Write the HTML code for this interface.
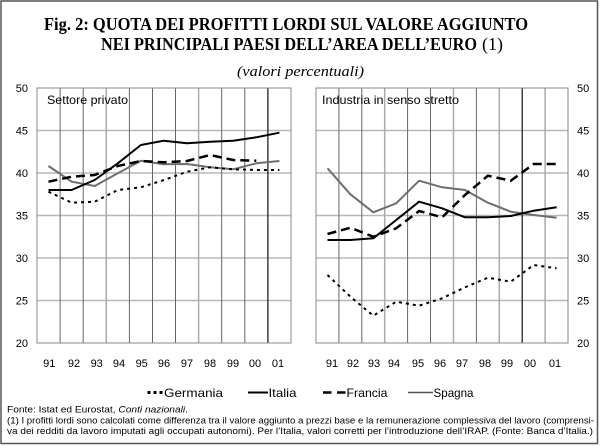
<!DOCTYPE html>
<html><head><meta charset="utf-8"><style>
html,body{margin:0;padding:0;background:#fff;}
svg{display:block;}
text{font-family:"Liberation Sans",Arial,sans-serif;}
.serif{font-family:"Liberation Serif","Times New Roman",serif;}
</style></head><body>
<svg width="600" height="446" viewBox="0 0 600 446" xmlns="http://www.w3.org/2000/svg">
<rect x="0" y="0" width="600" height="446" fill="#fff"/>
<rect x="1" y="1" width="596.5" height="442.5" fill="none" stroke="#555" stroke-width="1.5"/>

<!-- Title -->
<text class="serif" x="44" y="30" font-size="18" font-weight="bold" textLength="484" lengthAdjust="spacingAndGlyphs">Fig. 2: QUOTA DEI PROFITTI LORDI SUL VALORE AGGIUNTO</text>
<text class="serif" x="101" y="50" font-size="18" font-weight="bold" textLength="376" lengthAdjust="spacingAndGlyphs">NEI PRINCIPALI PAESI DELL’AREA DELL’EURO</text>
<text class="serif" x="482" y="50" font-size="18" textLength="21" lengthAdjust="spacingAndGlyphs">(1)</text>
<text class="serif" x="237" y="76" font-size="15" font-style="italic" textLength="127" lengthAdjust="spacingAndGlyphs">(valori percentuali)</text>

<!-- Left panel grid -->
<g stroke="#b8b8b8" stroke-width="1.5">
<line x1="37" y1="130.5" x2="291" y2="130.5"/>
<line x1="37" y1="173" x2="291" y2="173"/>
<line x1="37" y1="215.5" x2="291" y2="215.5"/>
<line x1="37" y1="258" x2="291" y2="258"/>
<line x1="37" y1="300.5" x2="291" y2="300.5"/>
<line x1="316" y1="130.5" x2="568" y2="130.5"/>
<line x1="316" y1="173" x2="568" y2="173"/>
<line x1="316" y1="215.5" x2="568" y2="215.5"/>
<line x1="316" y1="258" x2="568" y2="258"/>
<line x1="316" y1="300.5" x2="568" y2="300.5"/>
</g>
<g stroke="#666" stroke-width="1">
<line x1="60.1" y1="88" x2="60.1" y2="343"/>
<line x1="83.2" y1="88" x2="83.2" y2="343"/>
<line x1="129.4" y1="88" x2="129.4" y2="343"/>
<line x1="152.5" y1="88" x2="152.5" y2="343"/>
<line x1="175.5" y1="88" x2="175.5" y2="343"/>
<line x1="221.7" y1="88" x2="221.7" y2="343"/>
<line x1="244.8" y1="88" x2="244.8" y2="343"/>
<line x1="338.9" y1="88" x2="338.9" y2="343"/>
<line x1="361.8" y1="88" x2="361.8" y2="343"/>
<line x1="407.6" y1="88" x2="407.6" y2="343"/>
<line x1="430.5" y1="88" x2="430.5" y2="343"/>
<line x1="476.4" y1="88" x2="476.4" y2="343"/>
</g>
<g stroke="#aaa" stroke-width="1.5">
<line x1="106.3" y1="88" x2="106.3" y2="343"/>
<line x1="198.6" y1="88" x2="198.6" y2="343"/>
<line x1="384.7" y1="88" x2="384.7" y2="343"/>
<line x1="453.5" y1="88" x2="453.5" y2="343"/>
<line x1="499.3" y1="88" x2="499.3" y2="343"/>
<line x1="545.1" y1="88" x2="545.1" y2="343"/>
</g>
<g stroke="#111" stroke-width="1.2">
<line x1="267.9" y1="88" x2="267.9" y2="343"/>
<line x1="522.2" y1="88" x2="522.2" y2="343"/>
</g>
<rect x="37" y="88" width="254" height="255" fill="none" stroke="#888" stroke-width="1"/>
<rect x="316" y="88" width="252" height="255" fill="none" stroke="#888" stroke-width="1"/>

<text x="47" y="104" font-size="12" textLength="81" lengthAdjust="spacingAndGlyphs">Settore privato</text>
<text x="322" y="104" font-size="12" textLength="137" lengthAdjust="spacingAndGlyphs">Industria in senso stretto</text>

<!-- Y labels -->
<g font-size="11" text-anchor="end">
<text x="28" y="92">50</text>
<text x="28" y="134.5">45</text>
<text x="28" y="177">40</text>
<text x="28" y="219.5">35</text>
<text x="28" y="262">30</text>
<text x="28" y="304.5">25</text>
<text x="28" y="347">20</text>
</g>
<g font-size="11">
<text x="577" y="92">50</text>
<text x="577" y="134.5">45</text>
<text x="577" y="177">40</text>
<text x="577" y="219.5">35</text>
<text x="577" y="262">30</text>
<text x="577" y="304.5">25</text>
<text x="577" y="347">20</text>
</g>
<!-- X labels -->
<g font-size="11" text-anchor="middle">
<text x="49.3" y="367">91</text><text x="74" y="367">92</text><text x="96.7" y="367">93</text><text x="119" y="367">94</text><text x="141.7" y="367">95</text><text x="164" y="367">96</text><text x="187" y="367">97</text><text x="210" y="367">98</text><text x="233" y="367">99</text><text x="255" y="367">00</text><text x="278" y="367">01</text>
<text x="332" y="367">91</text><text x="353" y="367">92</text><text x="374" y="367">93</text><text x="394" y="367">94</text><text x="418" y="367">95</text><text x="440" y="367">96</text><text x="462" y="367">97</text><text x="485" y="367">98</text><text x="507" y="367">99</text><text x="530" y="367">00</text><text x="555" y="367">01</text>
</g>

<!-- Left series -->
<g fill="none" stroke-linejoin="round">
<polyline stroke="#6e6e6e" stroke-width="2" points="48.5,166 71.6,181.7 94.7,186 117.8,173.3 140.9,160.7 163.9,164.3 187,164 210.1,167.3 233.2,169.3 256.3,163.3 279.4,161"/>
<polyline stroke="#000" stroke-width="2.5" stroke-dasharray="9,5" points="48.5,181.7 71.6,176.7 94.7,175 117.8,166 140.9,161 163.9,162.3 187,161 210.1,155 233.2,160 256.3,160.7"/>
<polyline stroke="#000" stroke-width="2" stroke-dasharray="3,4" points="48.5,191.7 71.6,202.7 94.7,201.7 117.8,190 140.9,187.3 163.9,180 187,171.7 210.1,167.3 233.2,169.3 256.3,170 279.4,170"/>
<polyline stroke="#000" stroke-width="2" points="48.5,190 71.6,190 94.7,180 117.8,163.3 140.9,145 163.9,140.7 187,143.3 210.1,141.7 233.2,140.7 256.3,137.3 279.4,132.7"/>
</g>
<!-- Right series -->
<g fill="none" stroke-linejoin="round">
<polyline stroke="#6e6e6e" stroke-width="2" points="327.5,168.3 350.4,194.3 373.3,212.3 396.2,203.3 419.1,180.7 442.1,187.3 465,190 487.9,202.7 510.8,211.7 533.7,215 556.6,217.7"/>
<polyline stroke="#000" stroke-width="2.5" stroke-dasharray="9,5" points="327.5,234 350.4,227.7 373.3,236.7 396.2,228.3 419.1,211 442.1,217.3 465,195 487.9,175.7 510.8,180.7 533.7,164 556.6,164"/>
<polyline stroke="#000" stroke-width="2" stroke-dasharray="3,4" points="327.5,275 350.4,296.7 373.3,315.7 396.2,301.7 419.1,305.7 442.1,298.3 465,287.3 487.9,277.7 510.8,281.7 533.7,265 556.6,268.3"/>
<polyline stroke="#000" stroke-width="2" points="327.5,240 350.4,240 373.3,238.3 396.2,220 419.1,201.7 442.1,208.3 465,217.3 487.9,217.3 510.8,216 533.7,210.7 556.6,207.3"/>
</g>

<!-- Legend -->
<g fill="#000">
<rect x="147.5" y="391" width="3" height="3"/>
<rect x="153.5" y="391" width="3" height="3"/>
<rect x="159.5" y="391" width="3" height="3"/>
</g>
<text x="164" y="397" font-size="12" textLength="59" lengthAdjust="spacingAndGlyphs">Germania</text>
<line x1="248" y1="392.5" x2="268" y2="392.5" stroke="#000" stroke-width="2"/>
<text x="268.5" y="397" font-size="12" textLength="28" lengthAdjust="spacingAndGlyphs">Italia</text>
<line x1="323" y1="392.5" x2="331.5" y2="392.5" stroke="#000" stroke-width="2.5"/>
<line x1="337" y1="392.5" x2="345.5" y2="392.5" stroke="#000" stroke-width="2.5"/>
<text x="346.5" y="397" font-size="12" textLength="41" lengthAdjust="spacingAndGlyphs">Francia</text>
<line x1="408" y1="392.5" x2="433" y2="392.5" stroke="#555" stroke-width="1.5"/>
<text x="433.5" y="397" font-size="12" textLength="40" lengthAdjust="spacingAndGlyphs">Spagna</text>

<!-- Footnotes -->
<text x="7" y="412.5" font-size="9.5" textLength="181" lengthAdjust="spacingAndGlyphs">Fonte: Istat ed Eurostat, <tspan font-style="italic">Conti nazionali</tspan>.</text>
<text x="7" y="423.5" font-size="9.5" textLength="587" lengthAdjust="spacingAndGlyphs">(1) I profitti lordi sono calcolati come differenza tra il valore aggiunto a prezzi base e la remunerazione complessiva del lavoro (comprensi-</text>
<text x="7" y="434" font-size="9.5" textLength="586" lengthAdjust="spacingAndGlyphs">va dei redditi da lavoro imputati agli occupati autonomi). Per l’Italia, valori corretti per l’introduzione dell’IRAP. (Fonte: Banca d’Italia.)</text>
</svg>
</body></html>
